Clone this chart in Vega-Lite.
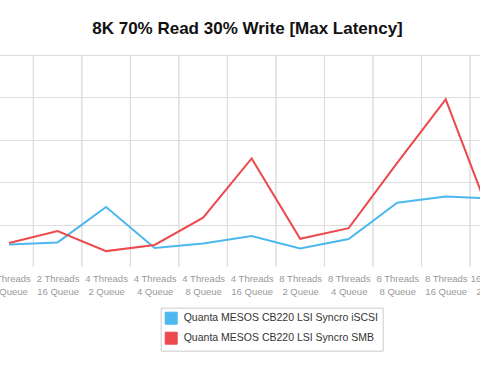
{
  "$schema": "https://vega.github.io/schema/vega-lite/v6.json",
  "width": 480,
  "height": 212,
  "autosize": {"type": "none"},
  "padding": {"left": 0, "top": 55, "right": 0, "bottom": 109},
  "background": "white",
  "title": {
    "text": "8K 70% Read 30% Write [Max Latency]",
    "fontSize": 17,
    "font": "Liberation Sans",
    "fontWeight": "bold",
    "color": "#111111",
    "offset": 17,
    "dx": 7.5
  },
  "config": {
    "view": {"stroke": null},
    "font": "Liberation Sans"
  },
  "data": {
    "values": [
      {"cfg": "2 Threads 8 Queue", "series": "Quanta MESOS CB220 LSI Syncro iSCSI", "latency": 10.6},
      {"cfg": "2 Threads 16 Queue", "series": "Quanta MESOS CB220 LSI Syncro iSCSI", "latency": 11.6},
      {"cfg": "4 Threads 2 Queue", "series": "Quanta MESOS CB220 LSI Syncro iSCSI", "latency": 28.3},
      {"cfg": "4 Threads 4 Queue", "series": "Quanta MESOS CB220 LSI Syncro iSCSI", "latency": 9.0},
      {"cfg": "4 Threads 8 Queue", "series": "Quanta MESOS CB220 LSI Syncro iSCSI", "latency": 11.1},
      {"cfg": "4 Threads 16 Queue", "series": "Quanta MESOS CB220 LSI Syncro iSCSI", "latency": 14.6},
      {"cfg": "8 Threads 2 Queue", "series": "Quanta MESOS CB220 LSI Syncro iSCSI", "latency": 8.7},
      {"cfg": "8 Threads 4 Queue", "series": "Quanta MESOS CB220 LSI Syncro iSCSI", "latency": 13.2},
      {"cfg": "8 Threads 8 Queue", "series": "Quanta MESOS CB220 LSI Syncro iSCSI", "latency": 30.3},
      {"cfg": "8 Threads 16 Queue", "series": "Quanta MESOS CB220 LSI Syncro iSCSI", "latency": 33.2},
      {"cfg": "16 Threads 2 Queue", "series": "Quanta MESOS CB220 LSI Syncro iSCSI", "latency": 32.3},
      {"cfg": "2 Threads 8 Queue", "series": "Quanta MESOS CB220 LSI Syncro SMB", "latency": 11.3},
      {"cfg": "2 Threads 16 Queue", "series": "Quanta MESOS CB220 LSI Syncro SMB", "latency": 17.0},
      {"cfg": "4 Threads 2 Queue", "series": "Quanta MESOS CB220 LSI Syncro SMB", "latency": 7.5},
      {"cfg": "4 Threads 4 Queue", "series": "Quanta MESOS CB220 LSI Syncro SMB", "latency": 10.4},
      {"cfg": "4 Threads 8 Queue", "series": "Quanta MESOS CB220 LSI Syncro SMB", "latency": 23.3},
      {"cfg": "4 Threads 16 Queue", "series": "Quanta MESOS CB220 LSI Syncro SMB", "latency": 51.2},
      {"cfg": "8 Threads 2 Queue", "series": "Quanta MESOS CB220 LSI Syncro SMB", "latency": 13.3},
      {"cfg": "8 Threads 4 Queue", "series": "Quanta MESOS CB220 LSI Syncro SMB", "latency": 18.3},
      {"cfg": "8 Threads 8 Queue", "series": "Quanta MESOS CB220 LSI Syncro SMB", "latency": 49.1},
      {"cfg": "8 Threads 16 Queue", "series": "Quanta MESOS CB220 LSI Syncro SMB", "latency": 79.1},
      {"cfg": "16 Threads 2 Queue", "series": "Quanta MESOS CB220 LSI Syncro SMB", "latency": 19.1}
    ]
  },
  "encoding": {
    "x": {
      "field": "cfg",
      "type": "nominal",
      "sort": null,
      "scale": {"type": "point", "padding": 0.5, "range": [-15.2, 518.5]},
      "axis": {
        "title": null,
        "labelAngle": 0,
        "grid": false,
        "ticks": false,
        "domain": false,
        "labelColor": "#999999",
        "labelFontSize": 9.5,
        "labelLineHeight": 13,
        "labelPadding": 6,
        "labelFont": "Liberation Sans",
        "labelOverlap": false,
        "labelBound": false,
        "labelExpr": "[slice(datum.value, 0, indexof(datum.value, 'Threads') + 7), slice(datum.value, indexof(datum.value, 'Threads') + 8)]"
      }
    }
  },
  "layer": [
    {
      "mark": {"type": "rule", "color": "#dddddd", "strokeWidth": 1, "xOffset": -24.26},
      "encoding": {}
    },
    {
      "mark": {"type": "line", "strokeWidth": 2, "clip": true},
      "encoding": {
        "y": {
          "field": "latency",
          "type": "quantitative",
          "scale": {"domain": [0, 100], "nice": false, "zero": true},
          "axis": {
            "title": null,
            "labels": false,
            "ticks": false,
            "domain": false,
            "grid": true,
            "gridColor": "#dddddd",
            "values": [20, 40, 60, 80, 100]
          }
        },
        "color": {
          "field": "series",
          "type": "nominal",
          "sort": null,
          "scale": {"range": ["#4CB8EE", "#EC4A4E"]},
          "legend": {
            "title": null,
            "orient": "none",
            "legendX": 160.7,
            "legendY": 252.7,
            "direction": "vertical",
            "strokeColor": "#cccccc",
            "padding": 4,
            "rowPadding": 3,
            "symbolType": "square",
            "symbolSize": 144,
            "symbolStrokeWidth": 1,
            "symbolStrokeColor": "#cccccc",
            "symbolOpacity": 1,
            "labelFontSize": 10.5,
            "labelColor": "#333333",
            "labelFont": "Liberation Sans",
            "labelOffset": 6,
            "labelLimit": 300,
            "encode": {
              "symbols": {
                "update": {
                  "fill": {"scale": "color", "field": "value"},
                  "stroke": {"value": "#cccccc"}
                }
              }
            }
          }
        }
      }
    }
  ]
}
